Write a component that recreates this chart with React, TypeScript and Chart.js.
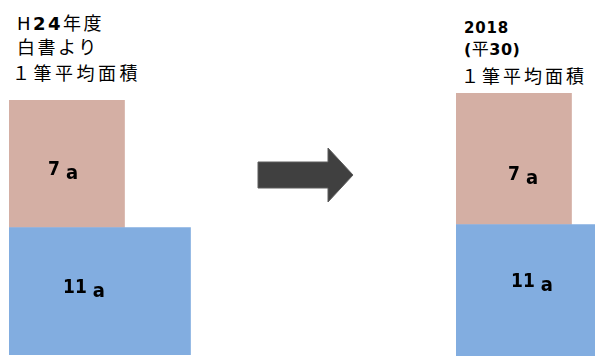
import React, { useEffect, useRef } from "react";
import { Chart, registerables } from "chart.js";

Chart.register(...registerables);

// ---- data ----
const rowKeys = ["上段", "下段"];
const leftValues = [7, 11];
const rightValues = [7, 11];
const unitLabel = "a";
const barColors = ["#D4AFA4", "#82ADE0"];
const axisMax = 14;

type Run = { t: string; b?: boolean; s?: number };
const leftTitle: Run[][] = [
  [{ t: "H" }, { t: "24", b: true }, { t: "年度" }],
  [{ t: "白書より" }],
  [{ t: "１筆平均面積" }],
];
const rightTitle: Run[][] = [
  [{ t: "2018", b: true }],
  [{ t: "(", b: true, s: 16 }, { t: "平", s: 17 }, { t: "30)", b: true, s: 16 }],
  [{ t: "１筆平均面積" }],
];

const FONT = "'DejaVu Sans', 'Noto Sans CJK JP', sans-serif";
const LABEL_FONT = "'DejaVu Sans Condensed', 'DejaVu Sans', sans-serif";

function labelPlugin(offsets: number[][]) {
  return {
    id: "barLabels",
    afterDatasetsDraw(chart: any) {
      const ctx = chart.ctx;
      const meta = chart.getDatasetMeta(0);
      const ds = chart.data.datasets[0].data as number[];
      meta.data.forEach((el: any, i: number) => {
        const p = el.getProps(["y", "base", "height"], true);
        const [dx, dy] = offsets[i];
        const x0 = p.base + dx;
        const yb = p.y - p.height / 2 + dy;
        const s = String(ds[i]);
        ctx.save();
        ctx.fillStyle = "#000";
        ctx.textAlign = "left";
        ctx.textBaseline = "alphabetic";
        ctx.font = `bold 19px ${LABEL_FONT}`;
        ctx.fillText(s, x0, yb);
        const w = ctx.measureText(s).width;
        ctx.font = `bold 20px ${LABEL_FONT}`;
        ctx.fillText(unitLabel, x0 + w + 6, yb + 4);
        ctx.restore();
      });
    },
  };
}

function Panel(props: {
  values: number[];
  left: number;
  width: number;
  padTop: number;
  padLeft: number;
  padBottom: number;
  offsets: number[][];
}) {
  const ref = useRef<HTMLCanvasElement>(null);
  useEffect(() => {
    const chart = new Chart(ref.current as HTMLCanvasElement, {
      type: "bar",
      data: {
        labels: rowKeys,
        datasets: [
          {
            data: props.values,
            backgroundColor: barColors,
            borderWidth: 0,
            barPercentage: 1,
            categoryPercentage: 1,
          },
        ],
      },
      options: {
        indexAxis: "y",
        responsive: false,
        animation: false,
        layout: {
          padding: { top: props.padTop, left: props.padLeft, right: 0, bottom: props.padBottom },
        },
        scales: {
          x: { display: false, min: 0, max: axisMax },
          y: { display: false },
        },
        plugins: { legend: { display: false }, tooltip: { enabled: false }, title: { display: false } },
      },
      plugins: [labelPlugin(props.offsets)],
    } as any);
    return () => chart.destroy();
  }, []);
  return (
    <canvas
      ref={ref}
      width={props.width}
      height={356}
      style={{ position: "absolute", left: props.left, top: 0, width: props.width, height: 356 }}
    />
  );
}

function TitleLine(props: { runs: Run[]; left: number; top: number; size: number; spacing: number }) {
  return (
    <div
      style={{
        position: "absolute",
        left: props.left,
        top: props.top,
        fontFamily: FONT,
        fontSize: props.size,
        lineHeight: `${props.size}px`,
        letterSpacing: props.spacing,
        whiteSpace: "nowrap",
        color: "#000",
      }}
    >
      {props.runs.map((r, i) => (
        <span
          key={i}
          style={{ fontWeight: r.b ? "bold" : "normal", fontSize: r.s ? r.s : undefined }}
        >
          {r.t}
        </span>
      ))}
    </div>
  );
}

export default function App() {
  return (
    <div
      style={{
        position: "fixed",
        left: 0,
        top: 0,
        width: 595,
        height: 356,
        overflow: "hidden",
        background: "#fff",
      }}
    >
      <TitleLine runs={leftTitle[0]} left={17} top={15} size={18} spacing={2.5} />
      <TitleLine runs={leftTitle[1]} left={17} top={39} size={18} spacing={2.5} />
      <TitleLine runs={leftTitle[2]} left={12} top={65} size={18} spacing={3.5} />

      <TitleLine runs={rightTitle[0]} left={464} top={21} size={15} spacing={0.8} />
      <TitleLine runs={rightTitle[1]} left={464} top={41} size={17} spacing={0.5} />
      <TitleLine runs={rightTitle[2]} left={461} top={68} size={18} spacing={3} />

      <Panel
        values={leftValues}
        left={0}
        width={240}
        padTop={100}
        padLeft={9}
        padBottom={1}
        offsets={[
          [39, 75],
          [54, 65.5],
        ]}
      />
      <Panel
        values={rightValues}
        left={456}
        width={231}
        padTop={93}
        padLeft={0}
        padBottom={0}
        offsets={[
          [52, 87],
          [55, 62.5],
        ]}
      />

      <svg
        width={595}
        height={356}
        style={{ position: "absolute", left: 0, top: 0, pointerEvents: "none" }}
      >
        <polygon
          points="258,162 328,162 328,148 353,175 328,202 328,188 258,188"
          fill="#404040"
          stroke="#5c5c5c"
          strokeWidth={1}
        />
      </svg>
    </div>
  );
}
